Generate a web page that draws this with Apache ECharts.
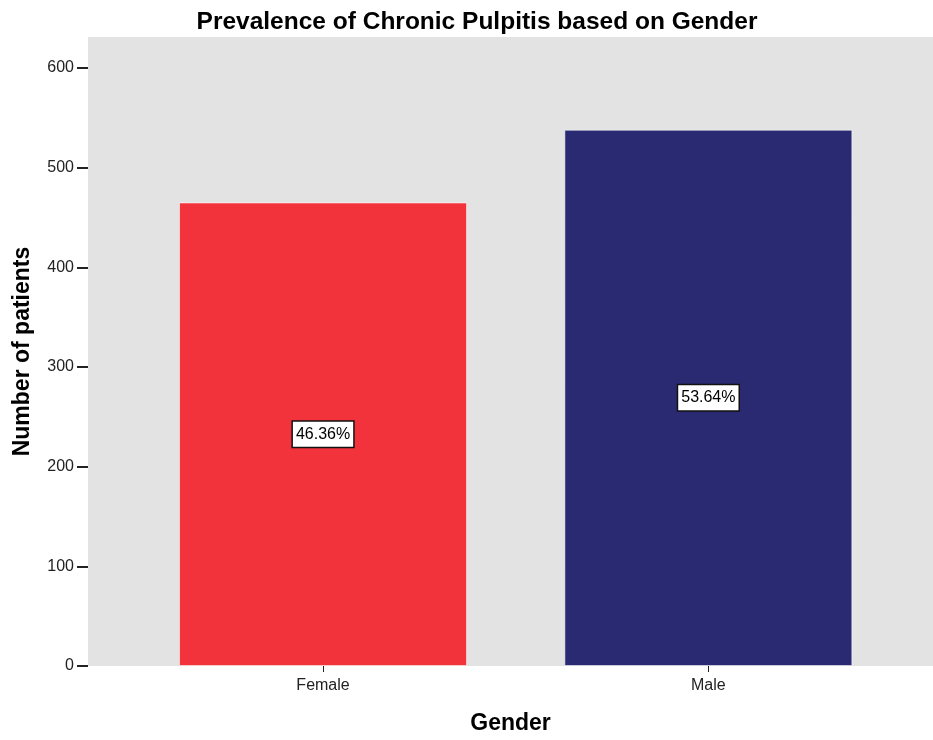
<!DOCTYPE html>
<html>
<head>
<meta charset="utf-8">
<script src="https://cdn.jsdelivr.net/npm/echarts@6/dist/echarts.min.js"></script>
<style>
  html, body { margin: 0; padding: 0; background: #fff; overflow: hidden; }
  #chart { width: 933px; height: 740px; }
</style>
</head>
<body>
<div id="chart"></div>
<script>
// Patients with chronic pulpitis, by gender
const categories = ['Female', 'Male'];
const patients = [465, 538];
const percentLabels = ['46.36%', '53.64%'];
const barColors = ['#f2333b', '#292a72'];
const yTicks = [0, 100, 200, 300, 400, 500, 600];

const FONT = '"Liberation Sans", Arial, sans-serif';

const chart = echarts.init(document.getElementById('chart'), null, { renderer: 'canvas' });

chart.setOption({
  backgroundColor: '#ffffff',
  animation: false,
  title: {
    text: 'Prevalence of Chronic Pulpitis based on Gender',
    left: 472,
    textAlign: 'center',
    top: 5,
    textStyle: { fontFamily: FONT, fontSize: 24.5, fontWeight: 'bold', color: '#000' }
  },
  grid: {
    left: 88, top: 37, width: 845, height: 632,
    show: true, backgroundColor: '#e3e3e3', borderWidth: 0
  },
  xAxis: {
    type: 'value',
    min: -0.61,
    max: 1.583,
    name: 'Gender',
    nameLocation: 'middle',
    nameGap: 46,
    nameTextStyle: { fontFamily: FONT, fontSize: 23, fontWeight: 'bold', color: '#000' },
    splitLine: { show: false },
    axisLine: { show: false, onZero: false },
    axisTick: {
      show: true, length: 6, customValues: [0, 1],
      lineStyle: { color: '#222', width: 1 }
    },
    axisLabel: {
      customValues: [0, 1],
      margin: 12,
      fontFamily: FONT, fontSize: 16, color: '#222',
      formatter: v => categories[Math.round(v)]
    }
  },
  yAxis: {
    type: 'value',
    min: 0,
    max: 631,
    name: 'Number of patients',
    nameLocation: 'middle',
    nameGap: 54,
    nameTextStyle: { fontFamily: FONT, fontSize: 23, fontWeight: 'bold', color: '#000' },
    splitLine: { show: false },
    axisLine: { show: false, onZero: false },
    axisTick: {
      show: true, length: 11, customValues: yTicks,
      lineStyle: { color: '#222', width: 2 }
    },
    axisLabel: {
      customValues: yTicks,
      margin: 14,
      fontFamily: FONT, fontSize: 16, color: '#222'
    }
  },
  series: [{
    type: 'bar',
    barWidth: 288,
    data: patients.map((v, i) => ({
      value: [i, v],
      itemStyle: { color: barColors[i], borderColor: 'rgba(255,255,255,0.55)', borderWidth: 1 },
      label: { formatter: percentLabels[i] }
    })),
    label: {
      show: true,
      position: 'inside',
      fontFamily: FONT, fontSize: 16, color: '#000',
      backgroundColor: '#fff',
      borderColor: '#111', borderWidth: 1.5,
      padding: [5, 3, 4, 3]
    }
  }]
});
</script>
</body>
</html>
